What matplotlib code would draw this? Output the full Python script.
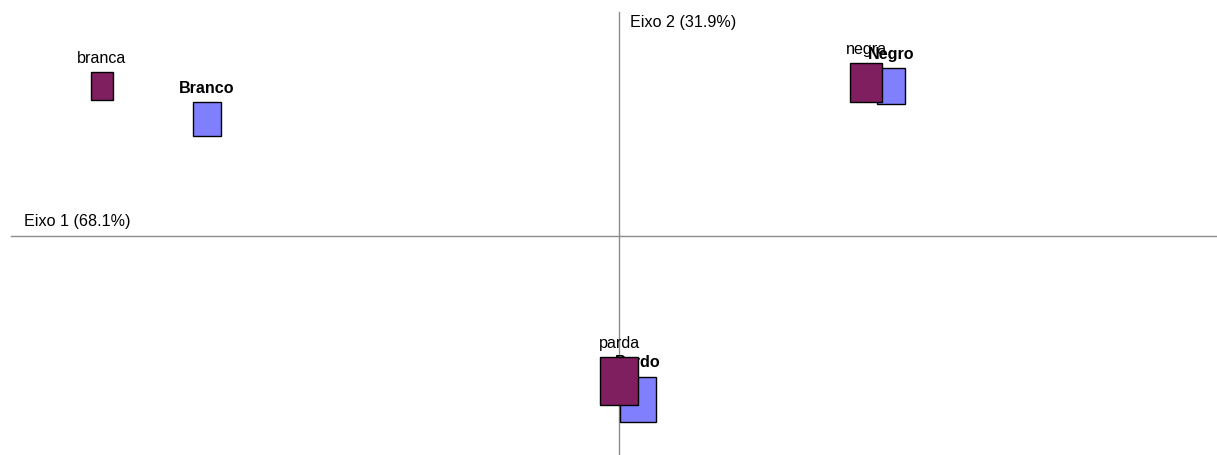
import matplotlib
matplotlib.use("Agg")
import matplotlib.pyplot as plt
from matplotlib.patches import Rectangle
from matplotlib.transforms import offset_copy

plt.rcParams['font.family'] = ['Liberation Sans', 'DejaVu Sans']

# Correspondence analysis coordinates
labels_col = ["branca", "negra", "parda"]
x_col = [-0.517, 0.247, 0.000]
y_col = [0.150, 0.153, -0.145]
size_col = [28, 39, 48]   # relative mass (box height)

labels_row = ["Branco", "Negro", "Pardo"]
x_row = [-0.412, 0.272, 0.019]
y_row = [0.117, 0.150, -0.163]
size_row = [34, 36, 45]

axis1_label = "Eixo 1 (68.1%)"
axis2_label = "Eixo 2 (31.9%)"

W, H = 1217, 455
fig = plt.figure(figsize=(W / 100, H / 100), dpi=100)
ax = fig.add_axes([0, 0, 1, 1])
ax.set_xlim(-0.619, 0.598)
ax.set_ylim(-0.219, 0.236)
ax.axis('off')

FS = 11.6

# axes lines
ax.plot([-0.608, 0.598], [0, 0], color='#8c8c8c', lw=1, zorder=1)
ax.plot([0, 0], [-0.219, 0.224], color='#8c8c8c', lw=1, zorder=1)
ax.text(-0.595, 0.010, axis1_label, fontsize=FS, ha='left', va='baseline')
ax.text(0.011, 0.213, axis2_label, fontsize=FS, ha='left', va='center')

scale = 0.001  # data units per pixel


def draw(xs, ys, sizes, labels, color, bold, rz, lz):
    for x, y, s, lab, z in zip(xs, ys, sizes, labels, lz):
        h = s * scale
        w = 0.8 * s * scale
        ax.add_patch(Rectangle((x - w / 2, y - h / 2), w, h, facecolor=color,
                               edgecolor='black', lw=1, zorder=rz))
        tr = offset_copy(ax.transData, fig=fig, x=0, y=6.5, units='points')
        ax.text(x, y + h / 2, lab, transform=tr, ha='center', va='baseline',
                fontsize=FS, fontweight='bold' if bold else 'normal', zorder=z)


draw(x_row, y_row, size_row, labels_row, '#8080ff', True, 2, [5, 5, 2.5])
draw(x_col, y_col, size_col, labels_col, '#7f1f5f', False, 3, [4, 4, 4])

fig.savefig("out.png", dpi=100)
